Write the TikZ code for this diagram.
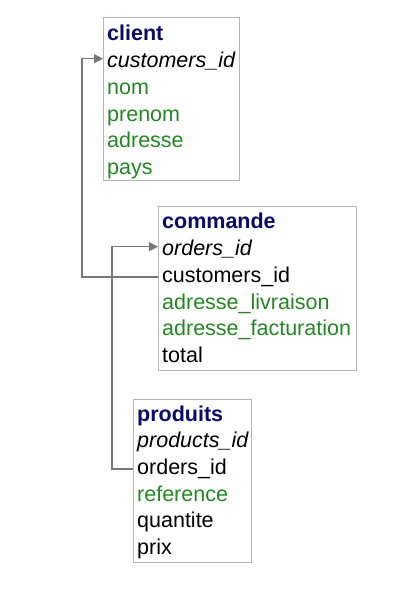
\documentclass[tikz,border=0pt]{standalone}
\usepackage{fontspec}
\setmainfont{Liberation Sans}
\usetikzlibrary{arrows.meta}
\definecolor{titleblue}{RGB}{10,10,110}
\definecolor{fieldgreen}{RGB}{34,136,34}
\definecolor{boxgray}{RGB}{180,180,180}
\definecolor{linkgray}{RGB}{120,120,120}
\tikzset{
  field/.style={anchor=base west, inner xsep=4pt, inner ysep=0pt,
    text height=15.5pt, text depth=4.5pt, font=\fontsize{21.5}{26}\selectfont},
  tablename/.style={field, text=titleblue, font=\fontsize{21.5}{26}\selectfont\bfseries},
  pkey/.style={field, font=\fontsize{21.5}{26}\selectfont\itshape},
  attr/.style={field, text=fieldgreen},
  tablebox/.style={draw=boxgray, line width=1pt},
  link/.style={draw=linkgray, line width=1.3pt},
}

\begin{document}
\begin{tikzpicture}[x=1pt,y=-1pt]
\useasboundingbox (0,0) rectangle (407,593);
% client
\draw[tablebox] (103,18) rectangle (239,181);
    \node[tablename] (client) at (103,41) {client};
    \node[pkey] (cid) at (103,67.7) {customers\_id};
    \node[attr] (cnom) at (103,94.4) {nom};
    \node[attr] (cprenom) at (103,121.1) {prenom};
    \node[attr] (cadr) at (103,147.8) {adresse};
    \node[attr] (cpays) at (103,174.5) {pays};
% commande
\draw[tablebox] (158,207) rectangle (356,370);
    \node[tablename] (commande) at (158,229) {commande};
    \node[pkey] (oid) at (158,255.7) {orders\_id};
    \node[field] (ccust) at (158,282.4) {customers\_id};
    \node[attr] (oliv) at (158,309.1) {adresse\_livraison};
    \node[attr] (ofact) at (158,335.8) {adresse\_facturation};
    \node[field] (ototal) at (158,362.5) {total};
% produits
\draw[tablebox] (133,399) rectangle (251,562);
    \node[tablename] (produits) at (133,421) {produits};
    \node[pkey] (pid) at (133,447.7) {products\_id};
    \node[field] (porder) at (133,474.4) {orders\_id};
    \node[attr] (pref) at (133,501.1) {reference};
    \node[field] (pqte) at (133,527.8) {quantite};
    \node[field] (pprix) at (133,554.5) {prix};
% links
\draw[link, -{Triangle[length=9pt,width=9pt]}] (ccust.west) -- ++(-76,0) |- ([yshift=3.5pt]cid.west);
\draw[link, -{Triangle[length=9pt,width=9pt]}] (porder.west) -- ++(-21,0) |- ([yshift=3.5pt]oid.west);
\end{tikzpicture}
\end{document}
